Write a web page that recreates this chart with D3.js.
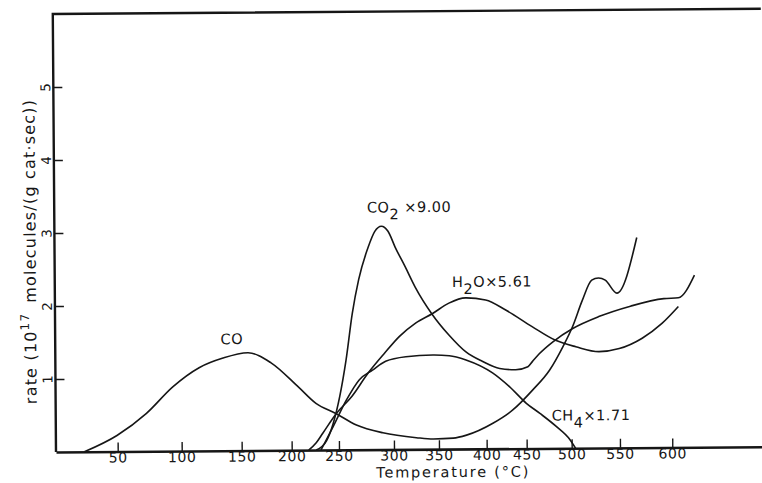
<!DOCTYPE html>
<html>
<head>
<meta charset="utf-8">
<script src="https://cdn.jsdelivr.net/npm/d3@7"></script>
<style>
  html, body { margin: 0; padding: 0; background: #fff; }
  svg { display: block; }
</style>
</head>
<body>
<svg id="chart" width="762" height="483"></svg>
<script>
// Desorption rates vs temperature, [temperature °C, rate in 10^17 molecules/(g cat·sec)]
const coRate = [
  [23, 0], [49.5, 0.22], [72.7, 0.52], [93.4, 0.88], [115, 1.14], [135, 1.27],
  [157, 1.34], [180, 1.20], [208, 0.86], [226, 0.64], [247, 0.50], [266, 0.34],
  [290, 0.23], [325, 0.16], [344, 0.14], [365, 0.15], [379, 0.19], [408, 0.35],
  [433, 0.53], [457, 0.80], [476, 1.07], [491, 1.39], [502, 1.67], [512, 2.02],
  [522, 2.30], [529, 2.33], [536, 2.30], [548, 2.12], [567.5, 2.88]
];
const co2Rate = [
  [226, 0], [237, 0.13], [244, 0.36], [251, 0.73], [257, 1.23], [263, 1.87],
  [269, 2.33], [278, 2.78], [284, 2.99], [290, 3.06], [296, 2.99], [303, 2.77],
  [314, 2.50], [325, 2.22], [344, 1.84], [361.5, 1.56], [379, 1.33], [396, 1.20],
  [417, 1.10], [437, 1.08], [452, 1.12], [457, 1.19], [465, 1.30], [480, 1.46],
  [502, 1.64], [529, 1.80], [561, 1.94], [593, 2.04], [607, 2.05], [623, 2.36]
];
const h2oRate = [
  [218, 0], [226, 0.10], [233, 0.23], [247.5, 0.50], [262, 0.73], [277, 1.05],
  [292, 1.32], [307, 1.55], [325, 1.73], [344, 1.86], [361.5, 2.00], [379, 2.07],
  [400, 2.04], [425, 1.90], [457, 1.67], [483, 1.48], [505, 1.39], [529, 1.32],
  [550, 1.36], [572, 1.50], [591, 1.70], [607, 1.93]
];
const ch4Rate = [
  [231, 0], [244, 0.32], [257, 0.68], [269, 0.96], [281, 1.09], [293, 1.21],
  [314, 1.27], [344, 1.29], [361.5, 1.28], [379, 1.22], [408, 1.04], [429, 0.85],
  [450, 0.62], [465, 0.48], [483, 0.30], [498, 0.12], [504, 0]
];
const tempTicks = [50, 100, 150, 200, 250, 300, 350, 400, 450, 500, 550, 600];
const rateTicks = [1, 2, 3, 4, 5];

// ---- layout ----
const FONT = "'DejaVu Sans', 'Liberation Sans', sans-serif";
const INK = "#161616";
const originX = 56, originY = 452;
// The ruled temperature scale is not evenly spaced, so map it piecewise.
const axisKnotTemps = [0, 50, 100, 150, 200, 250, 300, 350, 400, 450, 500, 550, 600, 690];
const axisKnotX = [56, 117.7, 181.7, 241.7, 291.7, 339, 394, 439, 486.7, 526.7, 571.7, 620, 672.3, 764];

const x = d3.scaleLinear().domain(axisKnotTemps).range(axisKnotX);
const y = d3.scaleLinear().domain([0, 6]).range([originY, 14]);

const svg = d3.select("#chart");
svg.append("rect").attr("width", 762).attr("height", 483).attr("fill", "#fff");

// whole plate sits very slightly askew
const g = svg.append("g").attr("transform", `rotate(-0.42, ${originX}, ${originY})`);

// frame: left, top
g.append("path")
  .attr("d", `M${x(690)},${y(6)} L${x(0)},${y(6)} L${x(0)},${y(0)}`)
  .attr("fill", "none").attr("stroke", INK).attr("stroke-width", 2.4);

// temperature axis
const xAxis = g.append("g")
  .attr("transform", `translate(0,${y(0)})`)
  .call(d3.axisBottom(x).tickValues(tempTicks).tickFormat(d3.format("d"))
    .tickSizeInner(-9).tickSizeOuter(0).tickPadding(1));
xAxis.select(".domain").attr("stroke", INK).attr("stroke-width", 2.6);
xAxis.selectAll(".tick line").attr("stroke", INK).attr("stroke-width", 1.4);
xAxis.selectAll(".tick text")
  .attr("fill", INK).attr("font-family", FONT).attr("font-size", 14)
  .attr("letter-spacing", 0.6);
xAxis.attr("font-family", null).attr("font-size", null);

// rate axis with rotated numerals
const yAxis = g.append("g")
  .attr("transform", `translate(${x(0)},0)`)
  .call(d3.axisLeft(y).tickValues(rateTicks).tickFormat(d3.format("d"))
    .tickSizeInner(-9).tickSizeOuter(0));
yAxis.select(".domain").remove();
yAxis.selectAll(".tick line").attr("stroke", INK).attr("stroke-width", 1.4);
yAxis.selectAll(".tick text")
  .attr("x", null).attr("dy", null)
  .attr("text-anchor", "middle")
  .attr("transform", "translate(-3,0) rotate(-90)")
  .attr("fill", INK).attr("font-family", FONT).attr("font-size", 13.5);
yAxis.attr("font-family", null).attr("font-size", null);

// axis titles
g.append("text")
  .attr("x", 453).attr("y", 480)
  .attr("text-anchor", "middle")
  .attr("font-family", FONT).attr("font-size", 14.5).attr("fill", INK)
  .attr("letter-spacing", 1.8)
  .text("Temperature (°C)");

const yTitle = g.append("text")
  .attr("transform", "translate(37,404) rotate(-90)")
  .attr("font-family", FONT).attr("font-size", 16).attr("fill", INK)
  .attr("letter-spacing", 1.2);
yTitle.append("tspan").text("rate (10");
yTitle.append("tspan").attr("dy", -7).attr("font-size", 12).text("17");
yTitle.append("tspan").attr("dy", 7).attr("dx", 10).text("molecules/(g cat·sec))");

// rate curves
const line = d3.line()
  .x(d => x(d[0]))
  .y(d => y(d[1]))
  .curve(d3.curveMonotoneX);

[coRate, co2Rate, h2oRate, ch4Rate].forEach(series => {
  g.append("path")
    .datum(series)
    .attr("d", line)
    .attr("fill", "none")
    .attr("stroke", INK)
    .attr("stroke-width", 1.6)
    .attr("stroke-linejoin", "round");
});

// curve labels: [main, subscript, trailing], anchored in data units
const curveLabels = [
  { parts: ["CO", "", ""], t: 133, v: 1.46 },
  { parts: ["CO", "2", " ×9.00"], t: 277, v: 3.25 },
  { parts: ["H", "2", "O×5.61"], t: 365, v: 2.22 },
  { parts: ["CH", "4", "×1.71"], t: 478, v: 0.38 }
];
curveLabels.forEach(l => {
  const t = g.append("text")
    .attr("x", x(l.t)).attr("y", y(l.v))
    .attr("font-family", FONT).attr("font-size", 14.5).attr("fill", INK)
    .attr("letter-spacing", 0.5)
    .style("white-space", "pre");
  t.append("tspan").text(l.parts[0]);
  if (l.parts[1]) {
    t.append("tspan").attr("dy", 7).text(l.parts[1]);
    t.append("tspan").attr("dy", -7).text(l.parts[2]);
  }
});
</script>
</body>
</html>
